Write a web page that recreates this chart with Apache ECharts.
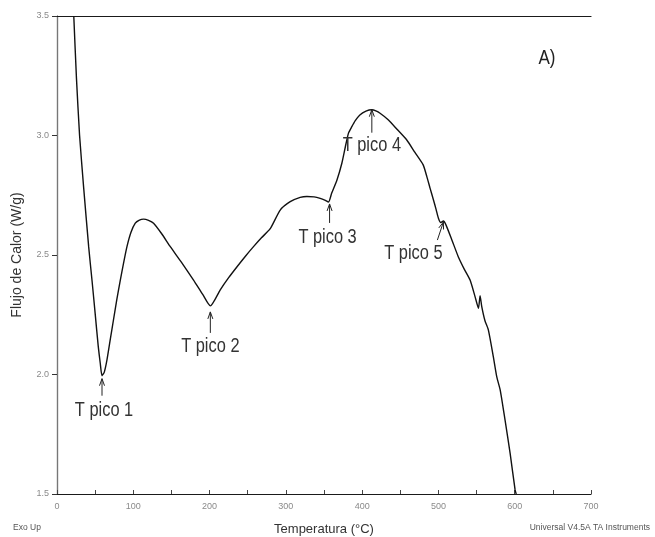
<!DOCTYPE html>
<html>
<head>
<meta charset="utf-8">
<script src="https://cdn.jsdelivr.net/npm/echarts@6/dist/echarts.min.js"></script>
<style>
  html, body { margin: 0; padding: 0; background: #fff; }
  #chart { width: 655px; height: 537px; }
</style>
</head>
<body>
<div id="chart"></div>
<script>
// DSC curve: heat flow vs temperature
const temperature = [
  22, 25.5, 29.6, 35, 41.5, 46, 50, 54, 56.7, 59, 62, 65.5, 70, 74, 78.5, 83, 87.5, 91.7, 97,
  102.6, 108, 113.5, 120, 126.6, 137, 148.5, 163, 179, 191, 201, 214, 225, 236, 247, 257.6, 268,
  279.5, 292.6, 305.7, 318.8, 327.6, 337, 345, 351, 356, 360, 367, 373.4, 378, 382, 386.5, 391,
  397, 405, 412.7, 418, 423.5, 434.5, 446, 458.5, 469, 480, 484.8, 489, 493.5, 497, 500, 503,
  506.5, 510, 518, 526, 534, 541.5, 548, 552.5, 554.6, 556.8, 561, 565.5, 572, 576.5, 581, 587.3,
  594, 600.5, 602
];
const heatFlow = [
  3.50, 3.24, 3.00, 2.78, 2.535, 2.39, 2.256, 2.12, 2.047, 1.995, 2.01, 2.061, 2.15, 2.228,
  2.315, 2.395, 2.47, 2.535, 2.595, 2.633, 2.646, 2.65, 2.645, 2.633, 2.59, 2.535, 2.47, 2.395,
  2.335, 2.287, 2.354, 2.405, 2.451, 2.495, 2.535, 2.572, 2.61, 2.688, 2.723, 2.741, 2.745, 2.743,
  2.737, 2.73, 2.722, 2.758, 2.814, 2.884, 2.953, 3.009, 3.037, 3.062, 3.086, 3.102, 3.108, 3.103,
  3.093, 3.065, 3.025, 2.981, 2.93, 2.877, 2.828, 2.78, 2.73, 2.69, 2.654, 2.636, 2.642, 2.625,
  2.56, 2.493, 2.44, 2.395, 2.326, 2.277, 2.33, 2.284, 2.225, 2.186, 2.074, 1.99, 1.935, 1.81,
  1.67, 1.517, 1.5
];

// Annotated peak temperatures
const peakNames = ['T pico 1', 'T pico 2', 'T pico 3', 'T pico 4', 'T pico 5'];
const peakTemps = [59, 201, 356, 412.7, 506.5];
const peakFlows = [1.995, 2.287, 2.722, 3.108, 2.642];

const xTicks = [0, 100, 200, 300, 400, 500, 600, 700];
const yTicks = ['1.5', '2.0', '2.5', '3.0', '3.5'];

// Pixel offsets of arrow tail, arrow tip and label centre relative to each peak
const arrowTail = [[0, 20], [0, 27], [1, 21], [0, 23], [-6, 19]];
const arrowTip = [[0, 3], [0, 6], [1, 2], [0, 0], [0, 1]];
const labelPos = [[2, 35], [0, 41], [-1, 36], [0, 36], [-30, 32]];

const chart = echarts.init(document.getElementById('chart'), null, { renderer: 'canvas' });

const tickLabelStyle = { color: '#8a8a8a', fontSize: 9, fontFamily: 'Liberation Sans, Arial, sans-serif' };

chart.setOption({
  animation: false,
  backgroundColor: '#ffffff',
  grid: { left: 57, right: 64, top: 16, bottom: 43, containLabel: false, outerBoundsMode: 'none' },
  xAxis: [{
    type: 'value', min: 0, max: 700, interval: 50,
    name: 'Temperatura (°C)', nameLocation: 'middle', nameGap: 29,
    nameTextStyle: { color: '#333', fontSize: 13, fontFamily: 'Liberation Sans, Arial, sans-serif' },
    axisLine: { show: true, lineStyle: { color: '#1a1a1a', width: 1.2 } },
    axisTick: { show: true, inside: true, length: 4, lineStyle: { color: '#444' } },
    axisLabel: {
      ...tickLabelStyle, margin: 8,
      formatter: v => (xTicks.indexOf(v) >= 0 ? String(v) : '')
    },
    splitLine: { show: false }
  }, {
    type: 'value', min: 0, max: 700, position: 'top',
    axisLine: { show: true, lineStyle: { color: '#1a1a1a', width: 1.2 } },
    axisTick: { show: false }, axisLabel: { show: false }, splitLine: { show: false }
  }],
  yAxis: [{
    type: 'value', min: 1.5, max: 3.5, interval: 0.5,
    name: 'Flujo de Calor (W/g)', nameLocation: 'middle', nameGap: 33,
    nameTextStyle: { color: '#333', fontSize: 14, fontFamily: 'Liberation Sans, Arial, sans-serif' },
    axisLine: { show: true, lineStyle: { color: '#777', width: 1.2 } },
    axisTick: { show: true, inside: false, length: 5, lineStyle: { color: '#333' } },
    axisLabel: {
      ...tickLabelStyle, margin: 8,
      formatter: v => yTicks[Math.round((v - 1.5) / 0.5)]
    },
    splitLine: { show: false }
  }, {
    type: 'value', min: 1.5, max: 3.5, position: 'right',
    axisLine: { show: true, lineStyle: { color: '#777', width: 1.2 } },
    axisTick: { show: false }, axisLabel: { show: false }, splitLine: { show: false }
  }],
  series: [{
    type: 'line',
    data: temperature.map((t, i) => [t, heatFlow[i]]),
    showSymbol: false,
    smooth: 0.2,
    clip: true,
    lineStyle: { color: '#111', width: 1.4 }
  }]
});

// Peak arrows and labels, anchored to the data points
const graphics = [];
peakNames.forEach((name, i) => {
  const p = chart.convertToPixel({ gridIndex: 0 }, [peakTemps[i], peakFlows[i]]);
  const tail = [p[0] + arrowTail[i][0], p[1] + arrowTail[i][1]];
  const tip = [p[0] + arrowTip[i][0], p[1] + arrowTip[i][1]];
  const dx = tip[0] - tail[0], dy = tip[1] - tail[1];
  const len = Math.hypot(dx, dy);
  const ux = dx / len, uy = dy / len;
  const hl = 7, hw = 2.5;
  const left = [tip[0] - ux * hl - uy * hw, tip[1] - uy * hl + ux * hw];
  const right = [tip[0] - ux * hl + uy * hw, tip[1] - uy * hl - ux * hw];
  graphics.push({
    type: 'line', z: 20,
    shape: { x1: tail[0], y1: tail[1], x2: tip[0], y2: tip[1] },
    style: { stroke: '#222', lineWidth: 1 }
  });
  graphics.push({
    type: 'polyline', z: 20,
    shape: { points: [left, tip, right] },
    style: { stroke: '#222', lineWidth: 1, fill: null }
  });
  graphics.push({
    type: 'text', z: 20,
    x: p[0] + labelPos[i][0], y: p[1] + labelPos[i][1],
    scaleX: 0.82,
    style: {
      text: name, fill: '#333', fontSize: 20,
      fontFamily: 'Liberation Sans Narrow, Arial Narrow, Liberation Sans, sans-serif',
      align: 'center', verticalAlign: 'middle'
    }
  });
});

graphics.push({
  type: 'text', x: 547, y: 58, scaleX: 0.85,
  style: { text: 'A)', fill: '#222', fontSize: 20, fontFamily: 'Liberation Sans, Arial, sans-serif',
    align: 'center', verticalAlign: 'middle' }
});
graphics.push({
  type: 'text', x: 13, y: 528,
  style: { text: 'Exo Up', fill: '#555', fontSize: 8.5, fontFamily: 'Liberation Sans, Arial, sans-serif',
    align: 'left', verticalAlign: 'middle' }
});
graphics.push({
  type: 'text', x: 650, y: 528,
  style: { text: 'Universal V4.5A TA Instruments', fill: '#555', fontSize: 8.5,
    fontFamily: 'Liberation Sans, Arial, sans-serif', align: 'right', verticalAlign: 'middle' }
});

chart.setOption({ graphic: graphics });
</script>
</body>
</html>
